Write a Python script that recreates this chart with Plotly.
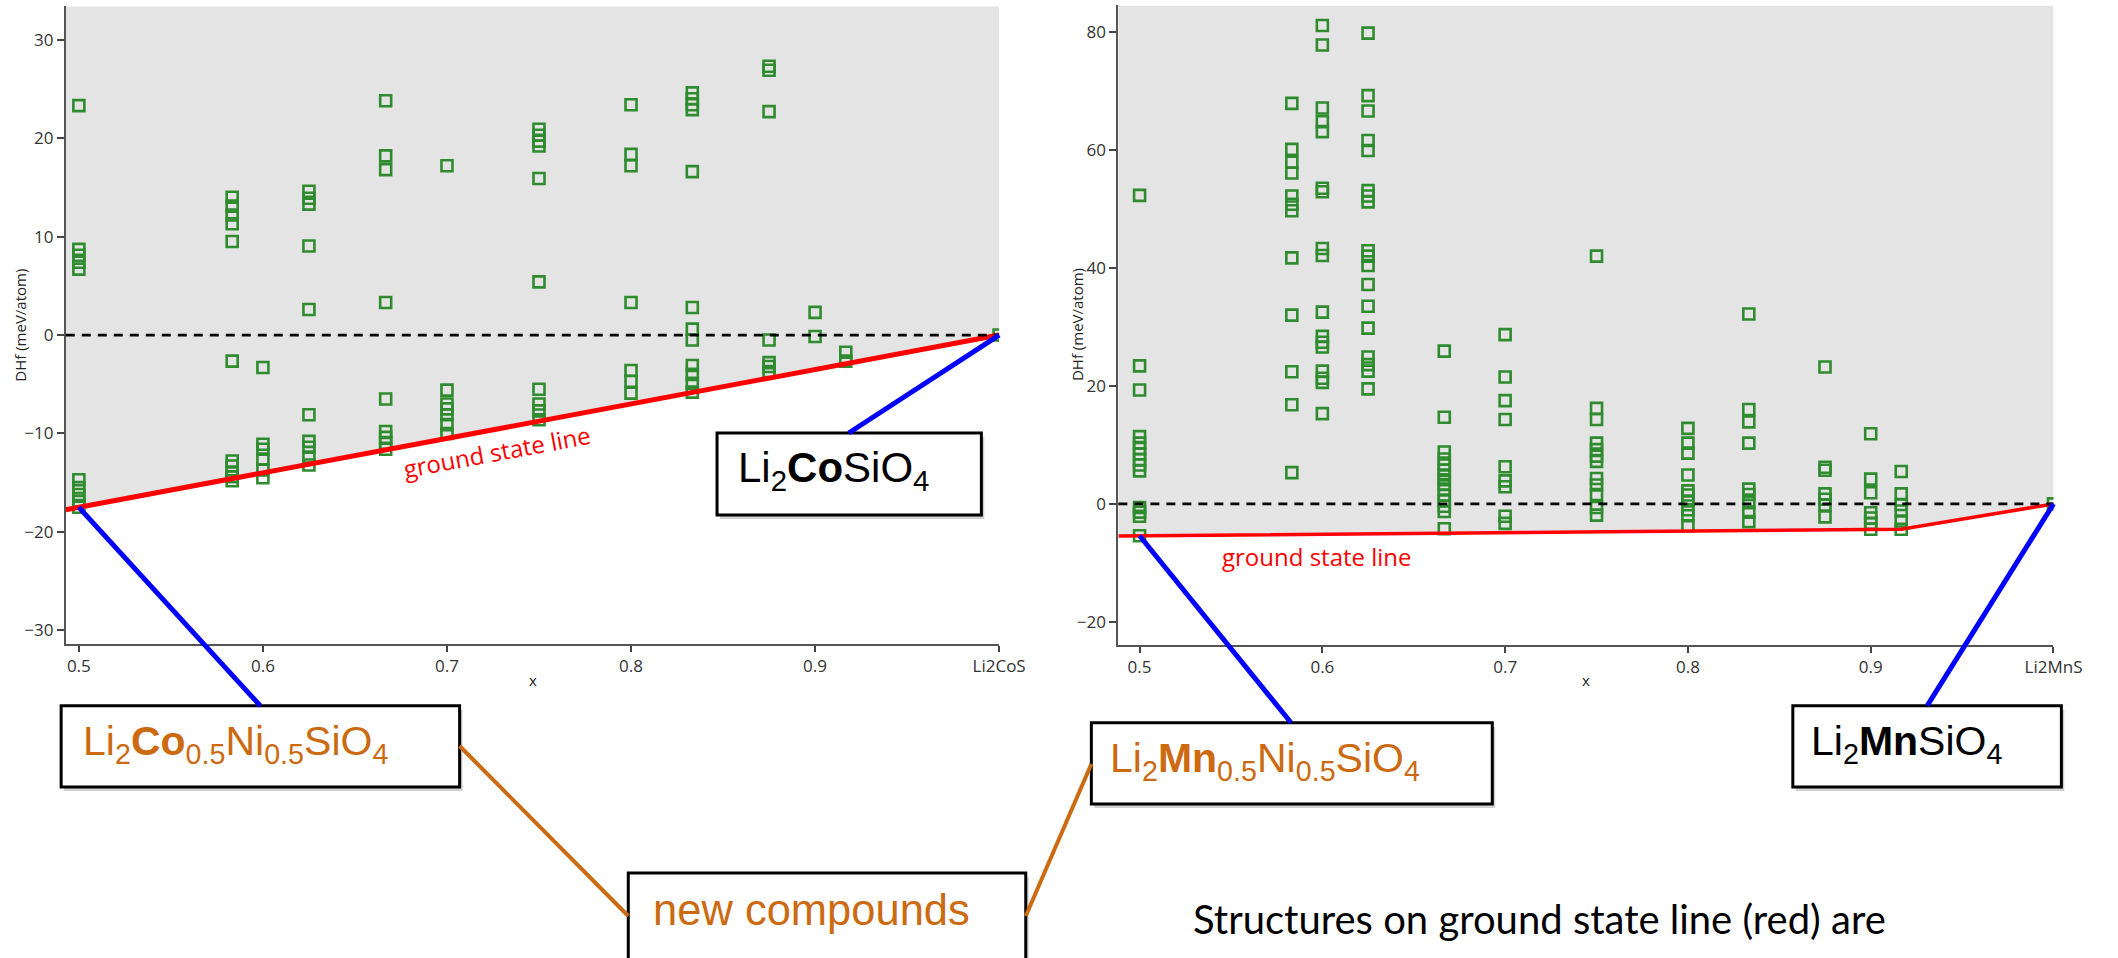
import plotly.graph_objects as go

W, H = 2118, 958

# ---------------- data ----------------
# Left panel: Li2Co(x)Ni(1-x)SiO4 formation energies (meV/atom)
co_x = [0.5, 0.5833, 0.6, 0.625, 0.6667, 0.7, 0.75, 0.8, 0.8333, 0.875, 0.9, 0.9167, 1.0]
co_dhf = [
    [23.3, 8.7, 8.1, 7.4, 6.7, -14.7, -15.5, -16.2, -16.9, -17.5],
    [14.0, 13.1, 12.2, 11.3, 9.5, -2.65, -12.8, -13.3, -14.0, -14.4, -14.8],
    [-3.3, -11.1, -11.6, -12.6, -13.7, -14.5],
    [14.6, 13.9, 13.3, 9.05, 2.6, -8.1, -10.8, -11.4, -12.4, -13.2],
    [23.8, 18.2, 16.8, 3.3, -6.5, -9.8, -10.4, -11.0, -11.6],
    [17.2, -5.6, -7.0, -7.5, -8.1, -9.1, -10.0],
    [20.9, 20.3, 19.7, 19.2, 15.9, 5.4, -5.5, -7.0, -7.7, -8.6],
    [23.4, 18.35, 17.2, 3.3, -3.6, -4.7, -5.9],
    [24.6, 24.0, 23.4, 22.9, 16.6, 2.8, 0.6, -0.5, -3.1, -4.0, -4.9, -5.8],
    [27.3, 26.9, 22.7, -0.5, -2.8, -3.2, -3.7],
    [2.3, -0.15],
    [-1.75, -2.65],
    [0.0],
]
co_gs_x = [0.5, 1.0]
co_gs_y = [-17.5, 0.0]
co_ticks = [0.5, 0.6, 0.7, 0.8, 0.9, 1.0]
co_ticktext = ["0.5", "0.6", "0.7", "0.8", "0.9", "Li2CoS"]
co_yticks = [-30, -20, -10, 0, 10, 20, 30]

# Right panel: Li2Mn(x)Ni(1-x)SiO4 formation energies (meV/atom)
mn_x = [0.5, 0.5833, 0.6, 0.625, 0.6667, 0.7, 0.75, 0.8, 0.8333, 0.875, 0.9, 0.9167, 1.0]
mn_dhf = [
    [52.3, 23.4, 19.3, 11.4, 10.3, 9.4, 8.5, 7.5, 6.6, 5.6, -0.6, -1.4, -2.1, -5.4],
    [67.9, 60.1, 57.9, 56.1, 52.2, 50.8, 49.7, 41.7, 32.0, 22.4, 16.8, 5.3],
    [81.1, 77.8, 67.1, 64.8, 63.1, 53.5, 52.9, 43.3, 42.1, 32.5, 28.4, 27.4, 26.6,
     22.5, 21.3, 20.6, 15.3],
    [79.8, 69.2, 66.6, 61.6, 59.9, 53.1, 52.2, 51.2, 42.9, 42.0, 40.4, 37.2, 33.5,
     29.8, 24.9, 23.6, 22.5, 19.5],
    [25.9, 14.7, 8.8, 7.6, 6.6, 5.7, 4.9, 4.1, 3.3, 2.5, 1.5, 0.5, -0.4, -1.3, -4.2],
    [28.7, 21.5, 17.5, 14.3, 6.3, 3.9, 2.9, -2.1, -3.3],
    [42.0, 16.2, 14.3, 10.3, 9.2, 8.1, 7.2, 4.3, 3.2, 1.6, -0.6, -1.9],
    [12.8, 10.3, 8.6, 4.9, 2.2, 1.5, 0.5, -1.0, -2.0, -3.7],
    [32.2, 16.0, 13.9, 10.3, 2.5, 1.6, 0.2, -1.4, -3.0],
    [23.2, 6.2, 5.7, 1.7, 0.8, -0.2, -2.2],
    [11.9, 4.2, 1.9, -1.5, -2.4, -3.3, -4.3],
    [5.5, 1.7, -0.1, -1.2, -2.9, -4.3],
    [0.0],
]
mn_gs_x = [0.5, 0.9167, 1.0]
mn_gs_y = [-5.4, -4.3, 0.0]
mn_ticks = [0.5, 0.6, 0.7, 0.8, 0.9, 1.0]
mn_ticktext = ["0.5", "0.6", "0.7", "0.8", "0.9", "Li2MnS"]
mn_yticks = [-20, 0, 20, 40, 60, 80]

# ---------------- layout geometry (pixels) ----------------
L_DOM_X = (66.7 / W, 1013 / W)
L_DOM_Y = (1 - 643.75 / H, 1 - 6.25 / H)
L_RX = (0.4929, 1.0)
L_RY = (-31.36, 33.4)
R_DOM_X = (1133.9 / W, 2082 / W)
R_DOM_Y = (1 - 644.6 / H, 1 - 5.4 / H)
R_RX = (0.4884, 1.0)
R_RY = (-23.85, 84.5)

GREEN = "#2e8b2e"
GRAY = "#e4e4e4"
ORANGE = "#cc6a12"
BLUE = "#0000ff"
TICKFONT = dict(family="Open Sans", size=17, color="#333333")


def flatten(xs, ys):
    fx, fy = [], []
    for x, col in zip(xs, ys):
        for v in col:
            fx.append(x)
            fy.append(v)
    return fx, fy


def extrap(gx, gy, x):
    s = (gy[1] - gy[0]) / (gx[1] - gx[0])
    return gy[0] + s * (x - gx[0])


def px(x):
    return x / W


def py(y):
    return 1 - y / H


def d2p(x, y, domx, domy, rx, ry):
    return (domx[0] + (x - rx[0]) / (rx[1] - rx[0]) * (domx[1] - domx[0]),
            domy[0] + (y - ry[0]) / (ry[1] - ry[0]) * (domy[1] - domy[0]))


fig = go.Figure()


def add_panel(xs, ys, gx, gy, rx, ry, xa, ya, redw):
    x0 = rx[0]
    gsx = [x0] + gx
    gsy = [extrap(gx, gy, x0)] + gy
    # grey region above the ground-state hull
    fig.add_trace(go.Scatter(
        x=gsx + [gx[-1], x0], y=gsy + [ry[1], ry[1]],
        fill="toself", fillcolor=GRAY, mode="none", hoverinfo="skip",
        xaxis=xa, yaxis=ya, showlegend=False))
    fx, fy = flatten(xs, ys)
    fig.add_trace(go.Scatter(
        x=fx, y=fy, mode="markers", xaxis=xa, yaxis=ya, showlegend=False,
        marker=dict(symbol="square-open", size=11, color=GREEN,
                    line=dict(width=2.6, color=GREEN))))
    fig.add_trace(go.Scatter(
        x=gsx, y=gsy, mode="lines", xaxis=xa, yaxis=ya, showlegend=False,
        line=dict(color="#ff0000", width=redw), hoverinfo="skip"))


add_panel(co_x, co_dhf, co_gs_x, co_gs_y, L_RX, L_RY, "x", "y", 5)
add_panel(mn_x, mn_dhf, mn_gs_x, mn_gs_y, R_RX, R_RY, "x2", "y2", 3.5)

axis_common = dict(showgrid=False, zeroline=False, showline=True, linecolor="#555555",
                   linewidth=2, ticks="outside", ticklen=7, tickwidth=1.5,
                   tickcolor="#444444", tickfont=TICKFONT, fixedrange=True)

fig.update_layout(
    width=W, height=H, margin=dict(l=0, r=0, t=0, b=0),
    paper_bgcolor="white", plot_bgcolor="white", hovermode=False,
    xaxis=dict(domain=list(L_DOM_X), range=list(L_RX), anchor="y",
               tickvals=co_ticks, ticktext=co_ticktext, **axis_common),
    yaxis=dict(domain=list(L_DOM_Y), range=list(L_RY), anchor="x",
               tickvals=co_yticks, **axis_common),
    xaxis2=dict(domain=list(R_DOM_X), range=list(R_RX), anchor="y2",
                tickvals=mn_ticks, ticktext=mn_ticktext, **axis_common),
    yaxis2=dict(domain=list(R_DOM_Y), range=list(R_RY), anchor="x2",
                tickvals=mn_yticks, **axis_common),
)
fig.update_xaxes(ticklen=6)

shapes = []
# dashed zero lines
for xr, yr in (("x domain", "y"), ("x2 domain", "y2")):
    shapes.append(dict(type="line", xref=xr, yref=yr, x0=0, x1=1, y0=0, y1=0,
                       layer="above", line=dict(color="black", width=2.8, dash="9px,7px")))

# boxes (pixel rectangles)
boxes = [
    (727, 433, 995, 515),
    (62, 705.7, 466, 787),
    (637, 873, 1040, 975),
    (1106.5, 722.7, 1513, 804),
    (1817.7, 705.7, 2090, 787),
]
for (a, b, c, d) in boxes:
    shapes.append(dict(type="rect", xref="paper", yref="paper",
                       x0=px(a + 3), x1=px(c + 3), y0=py(b + 4), y1=py(d + 4),
                       fillcolor="rgba(0,0,0,0.18)", line=dict(width=0), layer="above"))
    shapes.append(dict(type="rect", xref="paper", yref="paper",
                       x0=px(a), x1=px(c), y0=py(b), y1=py(d),
                       fillcolor="white", line=dict(color="black", width=3), layer="above"))


def seg(p0, p1, color, width):
    shapes.append(dict(type="line", xref="paper", yref="paper",
                       x0=p0[0], y0=p0[1], x1=p1[0], y1=p1[1], layer="above",
                       line=dict(color=color, width=width)))


lpt = d2p(co_gs_x[0], co_gs_y[0], L_DOM_X, L_DOM_Y, L_RX, L_RY)
lend = d2p(co_gs_x[-1], co_gs_y[-1], L_DOM_X, L_DOM_Y, L_RX, L_RY)
rpt = d2p(mn_gs_x[0], mn_gs_y[0], R_DOM_X, R_DOM_Y, R_RX, R_RY)
rend = d2p(mn_gs_x[-1], mn_gs_y[-1], R_DOM_X, R_DOM_Y, R_RX, R_RY)

seg(lpt, (px(263.8), py(705.7)), BLUE, 5)
seg((px(860.5), py(433)), lend, BLUE, 5)
seg(rpt, (px(1309), py(722.7)), BLUE, 5)
seg((px(1954), py(705.7)), rend, BLUE, 5)
seg((px(466), py(746)), (px(637), py(916)), ORANGE, 4)
seg((px(1040), py(916)), (px(1106.5), py(764)), ORANGE, 4)

fig.update_layout(shapes=shapes)

BOXFONT = "Liberation Sans"
ann = []


def text(x, y, s, size, color, family=BOXFONT, xanchor="left", angle=0):
    ann.append(dict(x=px(x), y=py(y), xref="paper", yref="paper", text=s,
                    showarrow=False, xanchor=xanchor, yanchor="middle",
                    textangle=angle, font=dict(family=family, size=size, color=color)))


text(746, 470, "Li<sub>2</sub><b>Co</b>SiO<sub>4</sub>", 42, "black")
text(82, 744, "Li<sub>2</sub><b>Co</b><sub>0.5</sub>Ni<sub>0.5</sub>SiO<sub>4</sub>", 41, ORANGE)
text(660, 910, "new compounds", 43.5, ORANGE)
text(1123, 761, "Li<sub>2</sub><b>Mn</b><sub>0.5</sub>Ni<sub>0.5</sub>SiO<sub>4</sub>", 41, ORANGE)
text(1834, 744, "Li<sub>2</sub><b>Mn</b>SiO<sub>4</sub>", 41, "black")
text(1208, 919, "Structures on ground state line (red) are", 40, "black", family="Lato")

# ground state labels
text(504, 451, "ground state line", 24, "#ff0000", family="Open Sans", xanchor="center", angle=-10.5)
text(1335, 556, "ground state line", 24, "#ff0000", family="Open Sans", xanchor="center")

# axis titles
text(20, 325, "DHf (meV/atom)", 15, "#222222", family="Open Sans", xanchor="center", angle=-90)
text(1092, 325, "DHf (meV/atom)", 15, "#222222", family="Open Sans", xanchor="center", angle=-90)
text(540, 680, "x", 15, "#222222", family="Open Sans", xanchor="center")
text(1608, 680, "x", 15, "#222222", family="Open Sans", xanchor="center")

fig.update_layout(annotations=ann)

fig.write_html("out.html", config={"displayModeBar": False},
               post_script="document.body.style.margin='0';document.body.style.overflow='hidden';")
